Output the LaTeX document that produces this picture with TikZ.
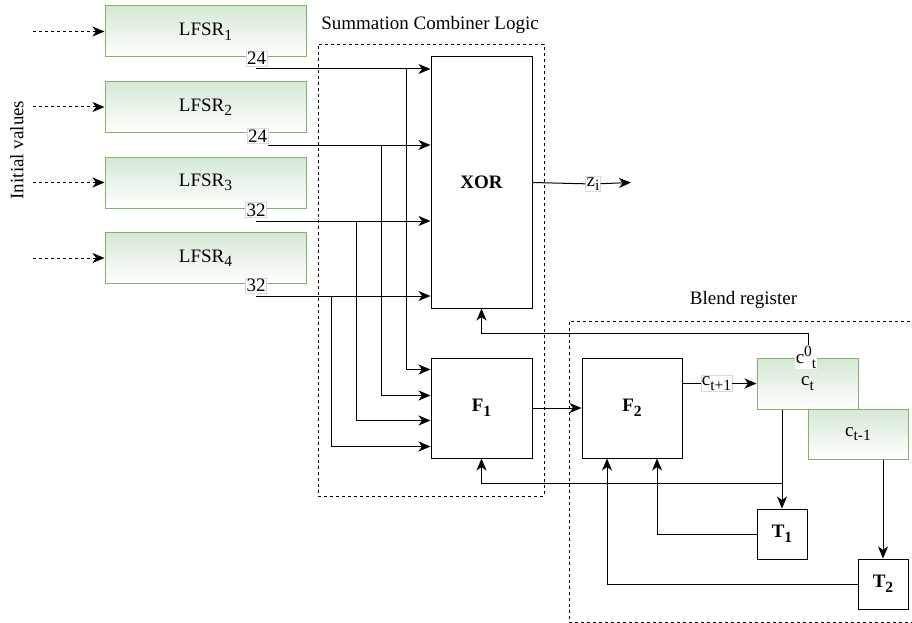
\documentclass[tikz,border=0pt]{standalone}
\usepackage{fontspec}
\setmainfont{Liberation Serif}
\usetikzlibrary{arrows.meta,calc}
\definecolor{gfill}{HTML}{D5E8D4}
\definecolor{gline}{HTML}{82B366}
\newcommand{\sbs}[1]{\raisebox{-4.5pt}{\fontsize{15.5}{15.5}\selectfont #1}}
\newcommand{\sps}[1]{\raisebox{7pt}{\fontsize{15.5}{15.5}\selectfont #1}}
\begin{document}
\begin{tikzpicture}[x=1pt,y=-1pt,
  font=\fontsize{19}{22}\selectfont,
  every node/.style={inner sep=0pt},
  lfsr/.style={draw=gline, line width=1pt, top color=gfill, bottom color=white, minimum width=201pt, minimum height=51pt},
  gbox/.style={draw=gline, line width=1pt, top color=gfill, bottom color=white, minimum width=101pt, minimum height=51pt},
  blk/.style={draw, line width=1pt, fill=white},
  frame/.style={draw, line width=0.9pt, dash pattern=on 3pt off 3pt},
  wire/.style={line width=1pt},
  arr/.style={wire, -{Stealth[length=12pt,width=10pt,inset=3.5pt]}},
  darr/.style={arr, dash pattern=on 3pt off 3pt},
  lbl/.style={fill=white, draw=black!15, line width=0.5pt, inner sep=1pt}
]
\useasboundingbox (0,0) rectangle (912,623);

% frames
\node[frame, minimum width=226pt, minimum height=452pt] (scl) at (431,270) {};
\node[frame, minimum width=344pt, minimum height=301pt] (blend) at (741,471.5) {};
\node (sclt) at (430,25) {Summation Combiner Logic};
\node (blendt) at (743.5,300) {Blend register};

% LFSRs
\node[lfsr] (L1) at (205.5,31.5) {LFSR\sbs{1}};
\node[lfsr] (L2) at (205.5,107) {LFSR\sbs{2}};
\node[lfsr] (L3) at (205.5,182.5) {LFSR\sbs{3}};
\node[lfsr] (L4) at (205.5,258) {LFSR\sbs{4}};

\node[rotate=90] (iv) at (17,150) {Initial values};
\coordinate (i1) at (33,31.5);
\coordinate (i2) at (33,107);
\coordinate (i3) at (33,182.5);
\coordinate (i4) at (33,258);
\draw[darr] (i1) -- (L1.west);
\draw[darr] (i2) -- (L2.west);
\draw[darr] (i3) -- (L3.west);
\draw[darr] (i4) -- (L4.west);

% blocks
\node[blk, minimum width=101pt, minimum height=251pt] (XOR) at (481.5,182.5) {\textbf{XOR}};
\node[blk, minimum width=101pt, minimum height=100pt] (F1) at (481.5,408) {\textbf{F\sbs{1}}};
\node[blk, minimum width=100pt, minimum height=100pt] (F2) at (632,408) {\textbf{F\sbs{2}}};
\node[gbox] (ct) at (807.5,383.5) {c\sbs{t}};
\node[gbox, minimum width=100pt, minimum height=50pt] (ct1) at (858,434) {c\sbs{t-1}};
\node[blk, minimum width=50pt, minimum height=50pt] (T1) at (782,534) {\textbf{T\sbs{1}}};
\node[blk, minimum width=50pt, minimum height=50pt] (T2) at (883,584) {\textbf{T\sbs{2}}};

% LFSR wires
\coordinate (s1) at (256,69);
\coordinate (s2) at (268,145);
\coordinate (s3) at (256,221);
\coordinate (s4) at (256,296);
\coordinate (b1) at (406,69);
\coordinate (b2) at (381,145);
\coordinate (b3) at (356,221);
\coordinate (b4) at (331,296);
\draw[arr] (s1) -- (s1 -| XOR.west);
\draw[arr] (s2) -- (s2 -| XOR.west);
\draw[arr] (s3) -- (s3 -| XOR.west);
\draw[arr] (s4) -- (s4 -| XOR.west);
\draw[arr] (b1) |- ($(F1.north west)+(0,12)$);
\draw[arr] (b2) |- ($(F1.north west)+(0,38)$);
\draw[arr] (b3) |- ($(F1.north west)+(0,63)$);
\draw[arr] (b4) |- ($(F1.north west)+(0,89)$);
\node[lbl] (n1) at (256.5,58.5) {24};
\node[lbl] (n2) at (257.5,136) {24};
\node[lbl] (n3) at (256,210) {32};
\node[lbl] (n4) at (256,285.5) {32};

% XOR output
\coordinate (zend) at (631,182.5);
\node[lbl] (zi) at (593,184) {z\sbs{i}};
\draw[wire] (XOR.east) -- (zi);
\draw[arr] (zi) -- (zend);

% F1 -> F2 -> ct
\draw[arr] (F1.east) -- (F2.west);
\node[lbl] (ctp) at (716.5,383.5) {c\sbs{t+1}};
\draw[wire] (F2.east |- ctp) -- (ctp);
\draw[arr] (ctp) -- (ct.west |- ctp);

% feedback to XOR
\coordinate (fb) at (481.5,333);
\node[fill=white, inner sep=1pt] (c0l) at (806,357.5) {c\sps{0}\sbs{t}};
\draw[arr] ([xshift=2pt]c0l.north) |- (fb) -- (XOR.south);

% ct -> T1, feedback to F1
\coordinate (br) at (782,483);
\draw[arr] (ct.south -| T1.north) -- (T1.north);
\draw[arr] (br) -| (F1.south);
\draw[arr] (ct1.south -| T2.north) -- (T2.north);
\draw[arr] (T1.west) -| ($(F2.south)+(25,0)$);
\draw[arr] (T2.west) -| ($(F2.south)+(-25,0)$);
\end{tikzpicture}
\end{document}
